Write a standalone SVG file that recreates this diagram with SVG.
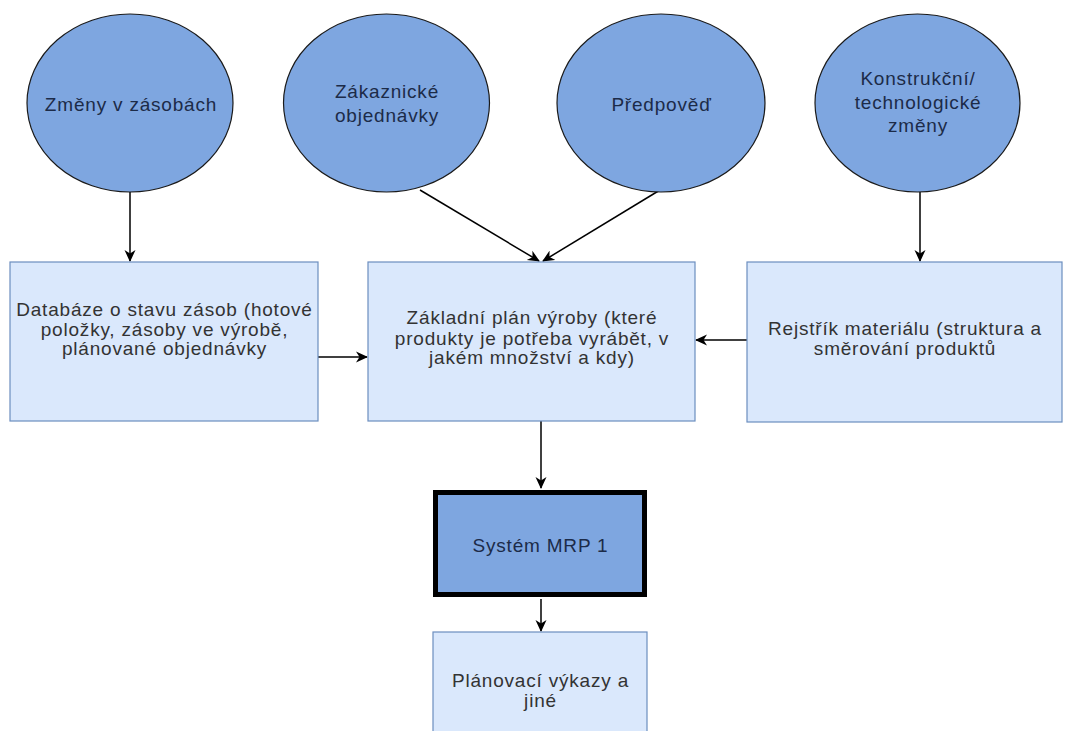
<svg xmlns="http://www.w3.org/2000/svg" width="1066" height="731" viewBox="0 0 1066 731">
  <defs>
    <marker id="arrow" viewBox="0 0 12 12" refX="11" refY="6" markerWidth="12" markerHeight="12" markerUnits="userSpaceOnUse" orient="auto">
      <path d="M0,0.5 L12,6 L0,11.5 L3.5,6 Z" fill="#000"/>
    </marker>
    <style>
      .source { fill: #7ea6e0; stroke: #1a1a1a; stroke-width: 1.2; }
      .box { fill: #dae8fc; stroke: #6c8ebf; stroke-width: 1.2; }
      .core { fill: #7ea6e0; stroke: #000; stroke-width: 5; }
      .lbl { font-family: "Liberation Sans", Arial, sans-serif; font-size: 19px; letter-spacing: 0.8px; text-anchor: middle; }
      .dark { fill: #1c2b48; }
      .grey { fill: #333333; }
      .edge { fill: none; stroke: #000; stroke-width: 1.5; marker-end: url(#arrow); }
    </style>
  </defs>
  <rect width="1066" height="731" fill="#ffffff"/>

  <g id="connectors">
    <line class="edge" x1="130" y1="192" x2="130" y2="261"/>
    <line class="edge" x1="420" y1="190" x2="539" y2="261"/>
    <line class="edge" x1="660" y1="190" x2="543" y2="261"/>
    <line class="edge" x1="920" y1="192" x2="920" y2="261"/>
    <line class="edge" x1="318" y1="357" x2="367" y2="357"/>
    <line class="edge" x1="747" y1="340" x2="696" y2="340"/>
    <line class="edge" x1="541" y1="421" x2="541" y2="488"/>
    <line class="edge" x1="541" y1="599" x2="541" y2="631"/>
  </g>

  <g id="zmeny-v-zasobach">
    <ellipse class="source" cx="130" cy="103" rx="103" ry="89"/>
    <text class="lbl dark" x="131" y="111">Změny v zásobách</text>
  </g>

  <g id="zakaznicke-objednavky">
    <ellipse class="source" cx="386.5" cy="103" rx="103" ry="89"/>
    <text class="lbl dark" x="387" y="98">Zákaznické</text>
    <text class="lbl dark" x="387" y="122">objednávky</text>
  </g>

  <g id="predpoved">
    <ellipse class="source" cx="661" cy="103" rx="104" ry="89"/>
    <text class="lbl dark" x="661.5" y="111">Předpověď</text>
  </g>

  <g id="konstrukcni-zmeny">
    <ellipse class="source" cx="917.5" cy="103" rx="102.5" ry="89"/>
    <text class="lbl dark" x="918" y="85">Konstrukční/</text>
    <text class="lbl dark" x="918" y="109">technologické</text>
    <text class="lbl dark" x="918" y="132">změny</text>
  </g>

  <g id="databaze-zasob">
    <rect class="box" x="10" y="262" width="308" height="159"/>
    <text class="lbl grey" x="164.5" y="316">Databáze o stavu zásob (hotové</text>
    <text class="lbl grey" x="164.5" y="336">položky, zásoby ve výrobě,</text>
    <text class="lbl grey" x="164.5" y="355">plánované objednávky</text>
  </g>

  <g id="zakladni-plan">
    <rect class="box" x="368" y="262" width="327" height="159"/>
    <text class="lbl grey" x="532" y="324">Základní plán výroby (které</text>
    <text class="lbl grey" x="532" y="345">produkty je potřeba vyrábět,  v</text>
    <text class="lbl grey" x="532" y="364">jakém množství a kdy)</text>
  </g>

  <g id="rejstrik-materialu">
    <rect class="box" x="747" y="262" width="315" height="160"/>
    <text class="lbl grey" x="905" y="335">Rejstřík materiálu (struktura a</text>
    <text class="lbl grey" x="905" y="355">směrování produktů</text>
  </g>

  <g id="system-mrp">
    <rect class="core" x="435.5" y="492.5" width="209" height="102"/>
    <text class="lbl dark" x="540.5" y="552">Systém MRP 1</text>
  </g>

  <g id="planovaci-vykazy">
    <rect class="box" x="433" y="632" width="214" height="110"/>
    <text class="lbl grey" x="540.5" y="687">Plánovací výkazy a</text>
    <text class="lbl grey" x="540.5" y="707">jiné</text>
  </g>
</svg>
